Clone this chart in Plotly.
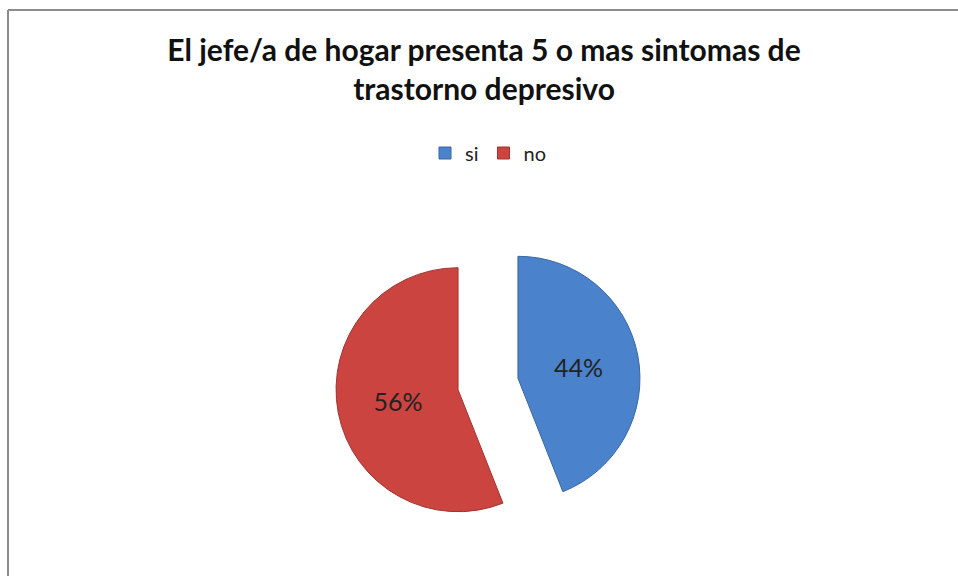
import plotly.graph_objects as go

title_text = "El jefe/a de hogar presenta 5 o mas sintomas de<br>trastorno depresivo"
labels = ["si", "no"]
values = [44, 56]
slice_colors = ["#4A82CB", "#CB4440"]
edge_colors = ["#3A66A0", "#9E3430"]

W, H = 958, 576
cx, cy, r, pull = 488, 384, 122, 0.25
half = r * (1 + pull)

fig = go.Figure(go.Pie(
    labels=labels,
    values=values,
    sort=False,
    direction="clockwise",
    rotation=0,
    pull=[pull, pull],
    marker=dict(colors=slice_colors, line=dict(color=edge_colors, width=1)),
    textinfo="percent",
    textposition="inside",
    insidetextorientation="horizontal",
    textfont=dict(family="Lato", size=25, color="#222222"),
    domain=dict(x=[(cx - half) / W, (cx + half) / W],
                y=[(H - cy - half) / H, (H - cy + half) / H]),
    hoverinfo="label+percent",
))

fig.update_layout(
    width=W, height=H,
    margin=dict(l=0, r=0, t=0, b=0),
    paper_bgcolor="white",
    plot_bgcolor="white",
    title=dict(text=title_text, x=484 / W, xanchor="center",
               y=1 - 61 / H, yanchor="top",
               font=dict(family="Lato", size=30, color="#111111", weight="bold")),
    showlegend=True,
    legend=dict(orientation="h", x=488 / W, xanchor="center",
                y=1 - 153 / H, yanchor="middle",
                font=dict(family="Lato", size=20, color="#222222"),
                itemwidth=30, traceorder="normal"),
    shapes=[
        dict(type="line", xref="paper", yref="paper",
             x0=8 / W, x1=1, y0=1 - 10 / H, y1=1 - 10 / H,
             line=dict(color="#8C8C8C", width=2)),
        dict(type="line", xref="paper", yref="paper",
             x0=8 / W, x1=8 / W, y0=1 - 10 / H, y1=0,
             line=dict(color="#8C8C8C", width=2)),
    ],
)

fig.write_html("out.html", config={"displayModeBar": False},
               post_script="document.body.style.margin='0px';")
